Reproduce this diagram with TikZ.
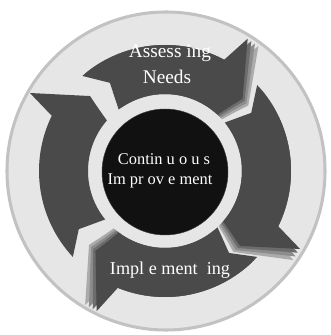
\documentclass[tikz,border=0pt]{standalone}
\usepackage{fontspec}
\setmainfont{Liberation Serif}

\definecolor{ringgray}{HTML}{C2C2C2}
\definecolor{diskgray}{HTML}{E6E6E6}
\definecolor{arrowgray}{HTML}{4A4A4A}
\definecolor{trailA}{HTML}{6C6C6C}
\definecolor{trailB}{HTML}{8C8C8C}
\definecolor{trailC}{HTML}{ABABAB}
\definecolor{hubblack}{HTML}{111111}

\tikzset{
	pics/cyclearrow/.style={code={
		\fill[#1] (131:126) arc[start angle=131, end angle=62, radius=126]
			-- (58:156) -- (43:106) -- (45:90) -- (47:77)
			arc[start angle=47, end angle=127, radius=77]
			-- (122:104) -- cycle;
	}}
}

\begin{document}
\begin{tikzpicture}[
		x=0.03cm, y=0.03cm,
		% Define styles
		ring/.style={fill=diskgray, draw=ringgray, line width=2.6pt},
		hubdisk/.style={circle, fill=hubblack, draw=black!75, minimum size=3.78cm, inner sep=0pt},
		steplabel/.style={text=white, inner sep=0pt, anchor=base, font=\fontsize{16.5}{20}\selectfont},
		hublabel/.style={text=white, inner sep=0pt, anchor=base, font=\fontsize{14}{17}\selectfont}
		]
		\useasboundingbox (0,0) rectangle (330,335);
		
		% Background disk
		\coordinate (hubc) at (165,164);
		\draw[ring] (166,164) circle[radius=159];
		
		% Trails behind the arrows (none on the left one)
		\foreach \turn in {0,-88,-174} {
			\pic[rotate=\turn-4.8] at (hubc) {cyclearrow=trailC};
			\pic[rotate=\turn-3.2] at (hubc) {cyclearrow=trailB};
			\pic[rotate=\turn-1.6] at (hubc) {cyclearrow=trailA};
		}
		
		% Cycle arrows
		\foreach \turn in {0,-88,-174,-268}
			\pic[rotate=\turn] at (hubc) {cyclearrow=arrowgray};
		
		% Hub
		\node (hub) [hubdisk] at (165,163) {};
		
		% Labels
		\node (assess) [steplabel] at (170,277) {Assess ing};
		\node (needs) [steplabel] at (167,251) {Needs};
		\node (contin) [hublabel] at (164,170) {Contin u o u s};
		\node (improve) [hublabel] at (160,150) {Im pr ov e ment};
		\node (implement) [steplabel, font=\fontsize{15.5}{19}\selectfont] at (170,60) {Impl e ment\ \ ing};
		
	\end{tikzpicture}
\end{document}
